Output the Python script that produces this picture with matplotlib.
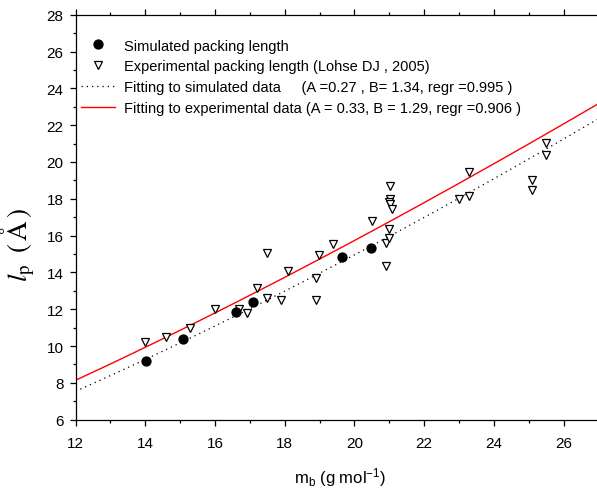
import numpy as np
import matplotlib
matplotlib.use("Agg")
import matplotlib.pyplot as plt
from matplotlib.ticker import MultipleLocator

plt.rcParams['font.family'] = ['Liberation Sans', 'DejaVu Sans']
plt.rcParams['mathtext.fontset'] = 'custom'
plt.rcParams['mathtext.rm'] = 'Liberation Sans'
plt.rcParams['mathtext.it'] = 'Liberation Sans:italic'

# Simulated packing length
sim_x = [14.02, 15.09, 16.59, 17.10, 19.63, 20.47]
sim_y = [9.17, 10.37, 11.83, 12.38, 14.82, 15.35]

# Experimental packing length (Lohse DJ, 2005)
exp_x = [14.00, 14.60, 15.29, 15.99, 16.70, 16.91, 17.20, 17.50, 17.50, 17.89,
         18.10, 18.89, 18.89, 18.99, 19.39, 20.50, 20.90, 20.90, 21.00, 21.00,
         21.01, 21.01, 20.99, 21.02, 21.09, 23.00, 23.29, 23.29, 25.09, 25.09,
         25.49, 25.49]
exp_y = [10.20, 10.48, 10.98, 12.01, 12.01, 11.78, 13.17, 12.59, 15.07, 12.50,
         14.08, 12.50, 13.68, 14.96, 15.56, 16.78, 14.37, 15.60, 15.87, 16.36,
         18.68, 17.99, 17.84, 17.72, 17.44, 17.97, 18.15, 19.44, 19.04, 18.46,
         21.03, 20.36]

# Fit parameters l_p = A * m_b^B
fit_sim = (0.27, 1.34)
fit_exp = (0.33, 1.29)

labels = ["Simulated packing length",
          "Experimental packing length (Lohse DJ , 2005)",
          "Fitting to simulated data     (A =0.27 , B= 1.34, regr =0.995 )",
          "Fitting to experimental data (A = 0.33, B = 1.29, regr =0.906 )"]

W, H = 597, 489
fig = plt.figure(figsize=(W / 100, H / 100), dpi=100)
left, right, top, bottom = 75.5, 598.6, 15.7, 420.7
ax = fig.add_axes([left / W, 1 - bottom / H, (right - left) / W, (bottom - top) / H])

xx = np.linspace(12, 27, 300)
ax.plot(xx, fit_sim[0] * xx ** fit_sim[1], color='black', lw=0.9,
        linestyle=(0, (1, 3.2)), label=labels[2], zorder=2)
ax.plot(xx, fit_exp[0] * xx ** fit_exp[1], color='#ff0000', lw=1.0,
        label=labels[3], zorder=2)
ax.plot(sim_x, sim_y, 'o', color='black', ms=6.4, label=labels[0], zorder=4)
ax.plot(exp_x, exp_y, 'v', mfc='white', mec='black', mew=0.9, ms=6.4,
        label=labels[1], zorder=3)

ax.set_xlim(12, 27)
ax.set_ylim(6, 28)
ax.xaxis.set_major_locator(MultipleLocator(2))
ax.xaxis.set_minor_locator(MultipleLocator(1))
ax.yaxis.set_major_locator(MultipleLocator(2))
ax.yaxis.set_minor_locator(MultipleLocator(1))
ax.tick_params(which='both', direction='out', top=True, right=False, width=0.9)
ax.tick_params(which='major', length=4.0)
ax.tick_params(which='minor', length=2.5)
ax.tick_params(axis='x', which='major', pad=8.0, labelsize=11)
ax.tick_params(axis='y', which='major', pad=4.5, labelsize=11)
for s in ax.spines.values():
    s.set_linewidth(0.9)
ax.spines['right'].set_visible(False)

ax.set_xlabel(r'm$_\mathrm{b}$ (g mol$^{\mathrm{-1}}$)', fontsize=12)
ax.xaxis.set_label_coords((340 - left) / (right - left), -(466 - bottom) / (bottom - top))
ax.set_ylabel(r'$l_{\mathrm{p}}\;\;(\,\mathrm{Å}\,)$', fontsize=19.5, math_fontfamily='stix')
ax.yaxis.set_label_coords(-(left - 37) / (right - left), (bottom - 245) / (bottom - top))

h, l = ax.get_legend_handles_labels()
order = [2, 3, 0, 1]
leg = ax.legend([h[i] for i in order], [l[i] for i in order],
                loc='upper left', bbox_to_anchor=(81 / W, 1 - 39.5 / H),
                bbox_transform=fig.transFigure, frameon=False, fontsize=10.5,
                handlelength=2.3, handletextpad=0.65, labelspacing=0.46,
                borderpad=0, borderaxespad=0)

fig.savefig('out.png', dpi=100)
